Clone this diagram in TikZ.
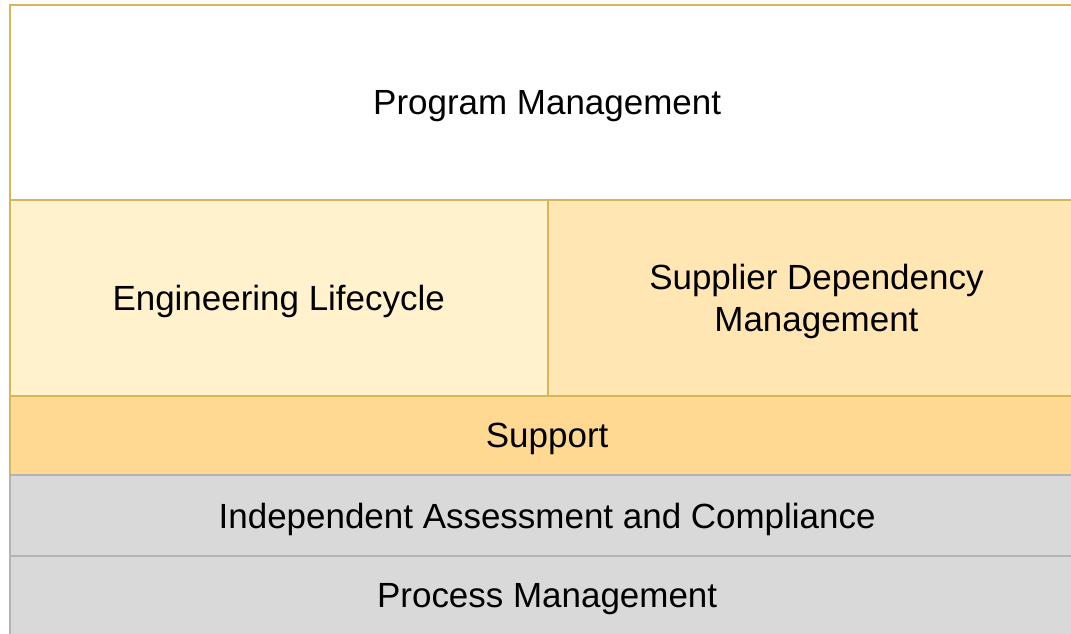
\documentclass[tikz,border=0pt]{standalone}
\usepackage{fontspec}
\setmainfont{Liberation Sans}
\definecolor{edgeorange}{HTML}{D6B656}
\definecolor{lightorange}{HTML}{FFF2CC}
\definecolor{midorange}{HTML}{FFE6B3}
\definecolor{deeporange}{HTML}{FFD992}
\definecolor{greyfill}{HTML}{D9D9D9}
\definecolor{greyedge}{HTML}{B3B3B3}
\tikzset{
  layer/.style={draw=edgeorange, line width=2*0.02cm, inner sep=0pt, anchor=north west,
    align=center, text depth=0pt, font=\fontsize{19.9}{24}\selectfont},
  greylayer/.style={layer, draw=greyedge, fill=greyfill}
}
\begin{document}
\begin{tikzpicture}[x=0.02cm,y=-0.02cm]
    \useasboundingbox (0,0) rectangle (1071,633);
    \clip (0,0) rectangle (1071,633);
    \node[layer, fill=white, minimum width=21.51cm, minimum height=3.91cm] (prog) at (8.5,3.5) {Program Management};
    \node[layer, fill=lightorange, minimum width=10.77cm, minimum height=3.92cm] (eng) at (8.5,199) {Engineering Lifecycle};
    \node[layer, fill=midorange, minimum width=10.74cm, minimum height=3.92cm] (supp) at (547,199) {Supplier Dependency\\Management};
    \node[layer, fill=deeporange, minimum width=21.51cm, minimum height=1.58cm] (support) at (8.5,395) {Support};
    \node[greylayer, minimum width=21.51cm, minimum height=1.62cm] (indep) at (8.5,474) {Independent Assessment and Compliance};
    \node[greylayer, minimum width=21.51cm, minimum height=1.58cm] (proc) at (8.5,555) {Process Management};
\end{tikzpicture}
\end{document}
